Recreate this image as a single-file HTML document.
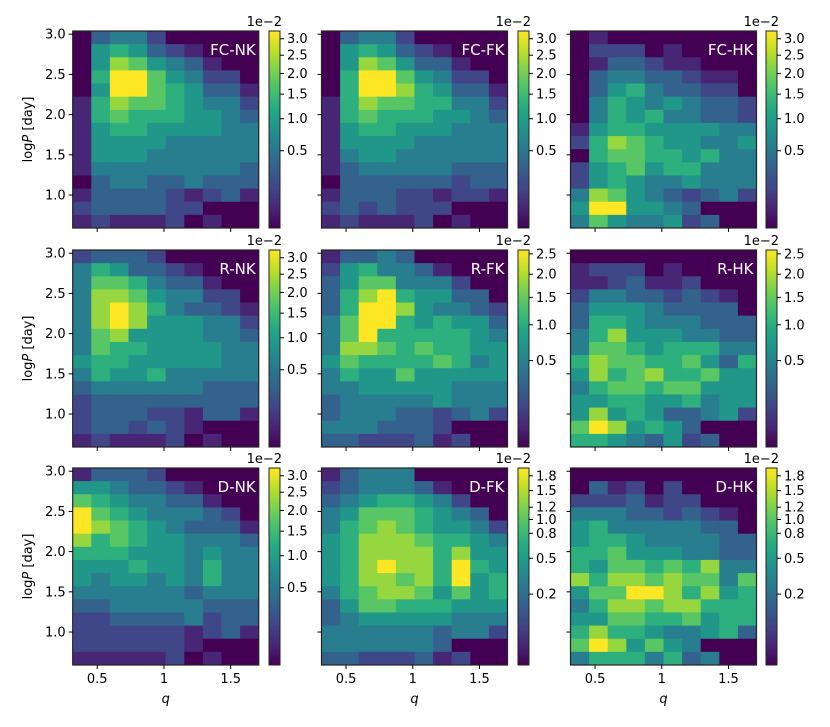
<!DOCTYPE html>
<html><head><meta charset="utf-8"><style>
body{margin:0;background:#fff;}
svg{display:block;font-family:"DejaVu Sans","Liberation Sans",sans-serif;}
</style></head><body>
<svg id="fig" width="830" height="727" viewBox="0 0 830 727"></svg>
<script>
// density levels (0 = lowest, 9 = highest), rows top (logP high) to bottom, 10 q-bins
const fcNK=[[0,3,4,4,2,0,0,0,0,0],[0,5,6,5,3,2,1,0,0,0],[0,5,8,7,5,4,3,1,0,0],[0,6,9,9,7,5,4,2,2,0],[0,5,9,9,7,6,5,3,3,1],[1,6,8,7,7,6,5,4,4,2],[1,6,7,6,6,6,5,5,4,3],[1,5,6,6,5,5,5,5,4,4],[1,5,5,5,5,4,4,4,4,4],[1,5,5,5,4,4,4,4,4,4],[1,4,4,4,4,4,4,4,4,3],[0,3,4,4,3,3,4,3,3,3],[1,3,3,3,3,2,1,2,3,1],[2,3,3,3,3,2,2,0,0,0],[1,2,1,1,1,2,0,1,0,0]];
const fcFK=[[0,3,4,4,2,0,0,0,0,0],[0,5,6,5,3,2,1,0,0,0],[0,5,8,7,5,3,3,1,0,0],[0,6,9,9,7,5,4,2,2,0],[0,6,9,9,8,6,5,3,3,1],[1,6,8,7,7,6,6,4,4,2],[1,6,7,6,6,6,5,5,4,3],[1,5,6,6,5,5,5,4,4,4],[1,5,5,5,5,4,4,4,4,4],[1,4,5,5,4,4,4,4,4,4],[1,3,4,4,4,4,4,3,3,3],[0,3,3,3,3,3,3,2,3,3],[1,3,3,3,2,2,1,2,2,1],[2,3,2,3,2,2,2,0,0,0],[1,2,1,1,1,2,0,1,0,0]];
const fcHK=[[0,1,0,0,0,0,0,0,0,0],[0,2,2,2,0,1,0,0,0,0],[0,1,3,3,2,1,1,0,0,0],[0,3,4,4,3,3,2,1,1,0],[0,3,5,6,4,3,3,2,2,0],[0,4,6,5,4,5,4,3,3,2],[0,4,6,5,6,4,4,3,3,2],[1,5,6,6,5,5,5,5,4,4],[2,6,8,7,6,5,5,4,4,5],[0,6,7,7,6,6,5,6,4,4],[2,5,6,7,5,6,6,4,4,4],[2,5,6,5,4,4,5,4,4,4],[4,8,7,5,4,3,2,3,4,2],[5,9,9,5,5,4,3,0,0,0],[4,7,5,4,4,5,2,3,0,0]];
const rNK=[[2,3,3,3,2,0,0,0,0,0],[4,6,5,3,3,2,1,0,0,0],[4,7,7,6,4,3,3,1,0,0],[4,8,8,7,5,4,4,2,2,0],[4,8,9,8,6,4,3,3,2,1],[4,8,9,8,5,5,5,4,4,2],[4,7,8,5,5,5,5,4,4,3],[4,7,6,6,5,5,5,5,4,4],[5,6,6,5,5,5,5,5,4,4],[4,6,5,5,6,4,4,4,4,4],[3,4,4,4,4,4,4,3,3,3],[2,3,3,3,3,3,3,3,3,3],[2,3,3,3,2,2,1,3,3,1],[2,3,3,2,3,2,1,0,0,0],[1,2,1,1,1,2,0,1,0,0]];
const rFK=[[1,3,3,4,3,0,0,0,0,0],[2,5,6,4,4,3,1,0,0,0],[3,5,7,7,4,4,4,2,0,0],[3,6,8,9,6,5,5,3,3,0],[3,6,9,9,8,5,4,4,3,2],[4,7,9,9,6,5,6,5,5,3],[4,7,9,6,6,6,6,6,5,4],[4,8,8,7,6,7,6,6,5,5],[5,7,6,6,6,6,7,6,4,5],[4,6,5,5,7,5,5,5,5,5],[4,4,5,5,5,5,5,4,4,4],[3,4,4,4,4,4,5,4,4,4],[3,4,4,4,3,3,2,3,4,2],[4,4,4,3,3,3,2,0,0,0],[3,3,2,2,2,3,1,2,0,0]];
const rHK=[[0,0,0,0,0,0,0,0,0,0],[1,2,2,2,0,1,0,0,0,0],[1,1,2,3,1,1,2,0,0,0],[2,4,4,3,3,2,3,2,1,0],[3,5,5,5,4,3,3,3,3,0],[3,6,6,5,4,4,4,3,3,3],[4,6,8,5,5,5,4,4,3,3],[4,7,7,6,5,6,6,6,4,4],[6,8,7,7,6,6,7,5,3,6],[5,8,6,7,8,6,6,7,5,5],[4,6,7,7,6,7,7,5,5,5],[5,5,6,6,5,5,6,4,5,5],[5,8,5,6,5,3,3,4,5,2],[7,9,8,5,6,5,3,0,0,0],[6,6,5,4,3,5,2,3,0,0]];
const dNK=[[1,3,3,3,2,0,0,0,0,0],[5,5,4,3,3,2,1,0,0,0],[7,6,5,4,4,3,3,1,0,0],[9,7,6,5,4,4,4,3,2,0],[9,8,7,6,5,4,3,3,3,1],[8,6,7,6,5,5,4,4,4,3],[6,6,6,5,5,5,4,5,4,4],[5,5,5,6,5,5,4,6,4,4],[5,4,5,5,4,5,4,6,4,4],[4,4,4,4,4,4,3,4,4,4],[3,3,4,4,4,4,4,3,3,3],[2,2,3,3,3,3,4,2,3,3],[2,2,2,2,2,2,1,2,3,1],[2,2,2,2,2,2,1,0,0,0],[1,1,1,1,1,2,0,1,0,0]];
const dFK=[[1,3,4,4,4,0,0,0,0,0],[2,3,4,4,4,3,1,0,0,0],[3,4,5,6,6,5,4,2,0,0],[4,5,7,7,7,6,5,4,3,0],[4,6,7,8,7,6,5,5,4,2],[5,6,8,8,8,7,6,6,5,4],[5,6,8,8,8,8,6,8,5,5],[5,6,8,9,8,8,6,9,6,5],[5,6,8,8,7,8,6,9,5,6],[4,6,7,8,8,7,5,7,5,6],[3,5,7,7,6,6,6,5,5,5],[3,4,5,5,5,5,5,4,4,4],[4,4,4,4,4,4,3,4,4,2],[4,4,4,4,4,4,3,0,0,0],[3,3,2,2,2,3,1,2,0,0]];
const dHK=[[0,0,0,0,0,0,0,0,0,0],[0,3,1,2,0,2,0,0,0,0],[2,2,2,3,1,2,2,0,0,0],[4,4,4,3,3,2,3,2,1,0],[5,6,4,4,4,4,4,3,3,0],[5,6,6,5,4,4,4,4,3,3],[6,6,7,5,5,5,4,4,3,3],[6,5,7,7,6,7,6,8,4,4],[8,6,8,8,7,8,7,7,4,7],[5,7,7,9,9,8,6,8,5,6],[4,6,8,8,7,8,8,6,6,6],[5,5,7,7,6,6,7,5,6,6],[6,8,6,6,5,4,4,5,6,3],[7,9,8,5,7,5,4,0,0,0],[4,6,6,6,4,6,3,4,0,0]];
const panelData=[fcNK,fcFK,fcHK,rNK,rFK,rHK,dNK,dFK,dHK];
const panelLabels=["FC-NK","FC-FK","FC-HK","R-NK","R-FK","R-HK","D-NK","D-FK","D-HK"];
const qRange=[0.316,1.71];
const logPRange=[0.59,3.04];
const xTicks=[0.5,1,1.5];
const xTickLabels=["0.5","1","1.5"];
const yTicks=[1.0,1.5,2.0,2.5,3.0];
const yTickLabels=["1.0","1.5","2.0","2.5","3.0"];
const cbMax=[3.25,3.25,3.25,3.25,2.6,2.6,3.25,1.97,1.97];
const cbGamma=[0.5,0.5,0.5,0.5,0.5,0.5,0.5,0.447,0.447];
const cbTicksA=[0.5,1.0,1.5,2.0,2.5,3.0];
const cbTicksB=[0.5,1.0,1.5,2.0,2.5];
const cbTicksC=[0.2,0.5,0.8,1.0,1.2,1.5,1.8];
const cbTickSets=[cbTicksA,cbTicksA,cbTicksA,cbTicksA,cbTicksB,cbTicksB,cbTicksA,cbTicksC,cbTicksC];

const NS="http://www.w3.org/2000/svg";
const svg=document.getElementById('fig');
const V=[[0,'#440154'],[0.1,'#482475'],[0.2,'#414487'],[0.3,'#355f8d'],[0.4,'#2a788e'],[0.5,'#21918c'],[0.6,'#22a884'],[0.7,'#44bf70'],[0.8,'#7ad151'],[0.9,'#bddf26'],[1,'#fde725']];
function hx(h){return [1,3,5].map(i=>parseInt(h.substr(i,2),16));}
function viridis(t){t=Math.max(0,Math.min(1,t));for(let i=1;i<V.length;i++){if(t<=V[i][0]){const a=hx(V[i-1][1]),b=hx(V[i][1]);const f=(t-V[i-1][0])/(V[i][0]-V[i-1][0]);return 'rgb('+a.map((v,k)=>Math.round(v+(b[k]-v)*f)).join(',')+')';}}return V[V.length-1][1];}
function levelColor(L){return viridis(L>=9?1:L/9.5);}
function mk(tag,attrs,parent){const e=document.createElementNS(NS,tag);for(const k in attrs)e.setAttribute(k,attrs[k]);(parent||svg).appendChild(e);return e;}
function txt(s,attrs,parent){const e=mk('text',attrs,parent);e.textContent=s;return e;}

const colX=[72.7,321.5,570.5], colW=186;
const cbX=[269,518,766], cbW=11;
const rowY=[31,250,468], rowH=197;

for(let p=0;p<9;p++){
  const r=Math.floor(p/3), c=p%3;
  const x0=colX[c], y0=rowY[r];
  const g=mk('g',{});
  
  
  const data=panelData[p];
  const nr=data.length, nc=data[0].length;
  const xs=q=>x0+(q-qRange[0])/(qRange[1]-qRange[0])*colW;
  const ys=v=>y0+rowH-(v-logPRange[0])/(logPRange[1]-logPRange[0])*rowH;
  const cw=colW/nc, ch=rowH/nr;
  for(let i=0;i<nr;i++)for(let j=0;j<nc;j++){
    const cell=mk('rect',{x:(x0+j*cw).toFixed(2),y:(y0+i*ch).toFixed(2),width:(cw+0.4).toFixed(2),height:(ch+0.4).toFixed(2),fill:levelColor(data[i][j])},g);
    
    
  }
  const fr=mk('rect',{x:x0,y:y0,width:colW,height:rowH,fill:'none',stroke:'#222','stroke-width':1.2},g);
  
  
  const lb=txt(panelLabels[p],{x:x0+colW-3,y:y0+24,'text-anchor':'end','font-size':15,fill:'#fff'},g);
  
  
  xTicks.forEach((t,k)=>{
    const X=xs(t);
    mk('line',{x1:X,x2:X,y1:y0+rowH,y2:y0+rowH+4,stroke:'#000','stroke-width':1},g);
    if(r===2){const tl=txt(xTickLabels[k],{x:X,y:y0+rowH+18,'text-anchor':'middle','font-size':13},g);
      
      }
  });
  yTicks.forEach((t,k)=>{
    const Y=ys(t);
    mk('line',{x1:x0-4,x2:x0,y1:Y,y2:Y,stroke:'#000','stroke-width':1},g);
    if(c===0){const tl=txt(yTickLabels[k],{x:x0-7,y:Y+4.5,'text-anchor':'end','font-size':13},g);
      
      }
  });
  if(r===2){const xl=txt('q',{x:x0+colW/2,y:703,'text-anchor':'middle','font-size':13,'font-style':'italic'},g);
    
    }
  const cb=mk('g',{},g);
  
  
  const cx=cbX[c], N=80;
  for(let k=0;k<N;k++){
    mk('rect',{x:cx,y:(y0+rowH-(k+1)*rowH/N).toFixed(2),width:cbW,height:(rowH/N+0.5).toFixed(2),fill:viridis((k+0.5)/N)},cb);
  }
  mk('rect',{x:cx,y:y0,width:cbW,height:rowH,fill:'none',stroke:'#222','stroke-width':1},cb);
  cbTickSets[p].forEach(t=>{
    const Y=y0+rowH-Math.pow(t/cbMax[p],cbGamma[p])*rowH;
    mk('line',{x1:cx+cbW,x2:cx+cbW+4,y1:Y,y2:Y,stroke:'#000','stroke-width':1},cb);
    const tl=txt(t.toFixed(1),{x:cx+cbW+7,y:Y+4.5,'font-size':13},cb);
    
    
  });
  const ex=txt('1e\u22122',{x:cx+cbW+2,y:y0-5,'text-anchor':'end','font-size':13},cb);
  
  
}
for(let r=0;r<3;r++){
  const yl=txt('log',{transform:'translate(32,'+(rowY[r]+rowH/2)+') rotate(-90)','text-anchor':'middle','font-size':13});
  const ts=document.createElementNS(NS,'tspan');ts.setAttribute('font-style','italic');ts.textContent='P';yl.appendChild(ts);
  yl.appendChild(document.createTextNode(' [day]'));
  
  
}
</script>
</body></html>
